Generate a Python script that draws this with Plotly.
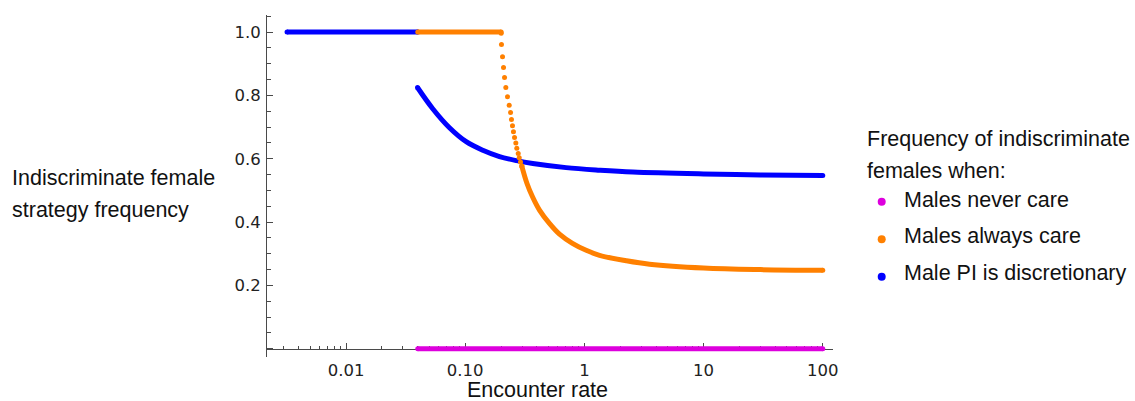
import plotly.graph_objects as go

# ---------------- data ----------------
# Male PI is discretionary (blue)
blue_flat_x = [0.0032, 0.040]
blue_flat_y = [1.0, 1.0]
blue_x = [0.0398, 0.0534, 0.0738, 0.1019, 0.1405, 0.194, 0.27, 0.369, 0.703, 1.34, 2.55, 10, 30, 100]
blue_y = [0.825, 0.758, 0.698, 0.654, 0.627, 0.607, 0.594, 0.585, 0.572, 0.564, 0.558, 0.552, 0.549, 0.547]

# Males always care (orange)
orange_flat_x = [0.040, 0.2004]
orange_flat_y = [1.0, 1.0]
orange_drop_x = [0.2004, 0.2015, 0.2056, 0.2096, 0.2138, 0.2192, 0.2265, 0.234, 0.240,
                 0.2445, 0.2493, 0.254, 0.2593, 0.266, 0.271, 0.2785, 0.284, 0.291, 0.2985]
orange_drop_y = [0.996, 0.961, 0.922, 0.888, 0.857, 0.825, 0.796, 0.769, 0.746,
                 0.724, 0.704, 0.685, 0.667, 0.650, 0.633, 0.617, 0.603, 0.590, 0.577]
orange_tail_x = [0.2985, 0.330, 0.367, 0.420, 0.509, 0.618, 0.794, 1.035, 1.34, 2.24, 3.52, 10, 30, 100]
orange_tail_y = [0.577, 0.522, 0.480, 0.438, 0.396, 0.362, 0.333, 0.311, 0.295, 0.278, 0.267, 0.255, 0.250, 0.248]

# Males never care (magenta)
magenta_x = [0.040, 100]
magenta_y = [0.0, 0.0]

x_tickvals = [0.01, 0.1, 1, 10, 100]
x_ticktext = ["0.01", "0.10", "1", "10", "100"]
y_tickvals = [0, 0.2, 0.4, 0.6, 0.8, 1.0]
y_ticktext = ["", "0.2", "0.4", "0.6", "0.8", "1.0"]

legend_title = ["Frequency of indiscriminate", "females when:"]
legend_labels = ["Males never care", "Males always care", "Male PI is discretionary"]
y_title = ["Indiscriminate female", "strategy frequency"]
x_title = "Encounter rate"

BLUE = "#0000ff"
ORANGE = "#ff8000"
MAGENTA = "#dd00dd"
legend_colors = [MAGENTA, ORANGE, BLUE]

# ---------------- layout geometry ----------------
W, H = 1135, 401
ML, MR, MT, MB = 267, 302, 15, 44
PW, PH = W - ML - MR, H - MT - MB
YMIN, YMAX = -0.026, 1.054


def paper(px, py):
    return (px - ML) / PW, (H - MB - py) / PH


minor_x = [m * 10 ** e for e in range(-3, 2) for m in range(2, 10)]
minor_x = [v for v in minor_x if 0.0022 < v < 121]
minor_y = [round(0.05 * k, 2) for k in range(1, 22) if k % 4 != 0]

LW = 5
MS = 5

fig = go.Figure()


def line_trace(xs, ys, color, spline=False):
    fig.add_trace(go.Scatter(x=xs, y=ys, mode="lines",
                             line=dict(color=color, width=LW,
                                       shape="spline" if spline else "linear",
                                       smoothing=1.0 if spline else None),
                             showlegend=False, hoverinfo="skip"))
    # round ends
    fig.add_trace(go.Scatter(x=[xs[0], xs[-1]], y=[ys[0], ys[-1]], mode="markers",
                             marker=dict(color=color, size=MS), showlegend=False, hoverinfo="skip"))


line_trace(magenta_x, magenta_y, MAGENTA)
line_trace(blue_flat_x, blue_flat_y, BLUE)
line_trace(blue_x, blue_y, BLUE, spline=True)
line_trace(orange_flat_x, orange_flat_y, ORANGE)
fig.add_trace(go.Scatter(x=orange_drop_x, y=orange_drop_y, mode="markers",
                         marker=dict(color=ORANGE, size=MS), showlegend=False, hoverinfo="skip"))
line_trace(orange_tail_x, orange_tail_y, ORANGE, spline=True)

AXC = "#4a4a4a"
TICKFONT = dict(family="DejaVu Sans", size=16.5, color="#222222")

fig.update_layout(
    width=W, height=H,
    margin=dict(l=ML, r=MR, t=MT, b=MB, pad=0),
    paper_bgcolor="white", plot_bgcolor="white",
    showlegend=False,
    xaxis=dict(type="log", range=[-2.663, 2.086], anchor="free",
               position=(0 - YMIN) / (YMAX - YMIN),
               showline=True, linecolor=AXC, linewidth=1, showgrid=False, zeroline=False,
               ticks="inside", ticklen=6, tickwidth=1, tickcolor=AXC,
               tickmode="array", tickvals=x_tickvals, ticktext=x_ticktext,
               tickfont=TICKFONT, ticklabelstandoff=6, layer="below traces",
               minor=dict(tickmode="array", tickvals=minor_x, ticks="inside", ticklen=3,
                          tickwidth=1, tickcolor=AXC, showgrid=False)),
    yaxis=dict(range=[YMIN, YMAX],
               showline=True, linecolor=AXC, linewidth=1, showgrid=False, zeroline=False,
               ticks="inside", ticklen=6, tickwidth=1, tickcolor=AXC,
               tickmode="array", tickvals=y_tickvals, ticktext=y_ticktext,
               tickfont=TICKFONT, ticklabelstandoff=2, layer="below traces",
               minor=dict(tickmode="array", tickvals=minor_y, ticks="inside", ticklen=4,
                          tickwidth=1, tickcolor=AXC, showgrid=False)),
)

LABFONT = dict(family="Liberation Sans, Arial, sans-serif", size=21.5, color="#111111")
SH = 0.35 * 21.5  # baseline to middle offset


def add_text(text, px, baseline, anchor="left"):
    x, y = paper(px, baseline - SH)
    fig.add_annotation(text=text, x=x, y=y, xref="paper", yref="paper", showarrow=False,
                       xanchor=anchor, yanchor="middle", font=LABFONT, borderpad=0)


add_text(y_title[0], 11, 186)
add_text(y_title[1], 11, 218)
add_text(x_title, 537, 398, anchor="center")
add_text(legend_title[0], 866, 146.7)
add_text(legend_title[1], 866, 178.3)
item_base = [207.3, 244.0, 280.7]
dot_y = [201.7, 239.3, 276.7]
for lab, col, b, dy in zip(legend_labels, legend_colors, item_base, dot_y):
    add_text(lab, 902.5, b)
    xa, ya = paper(881.7, dy)
    fig.add_shape(type="circle", xref="paper", yref="paper", xsizemode="pixel", ysizemode="pixel",
                  xanchor=xa, yanchor=ya, x0=-4, x1=4, y0=-4, y1=4,
                  fillcolor=col, line=dict(width=0))

fig.write_html("out.html")
